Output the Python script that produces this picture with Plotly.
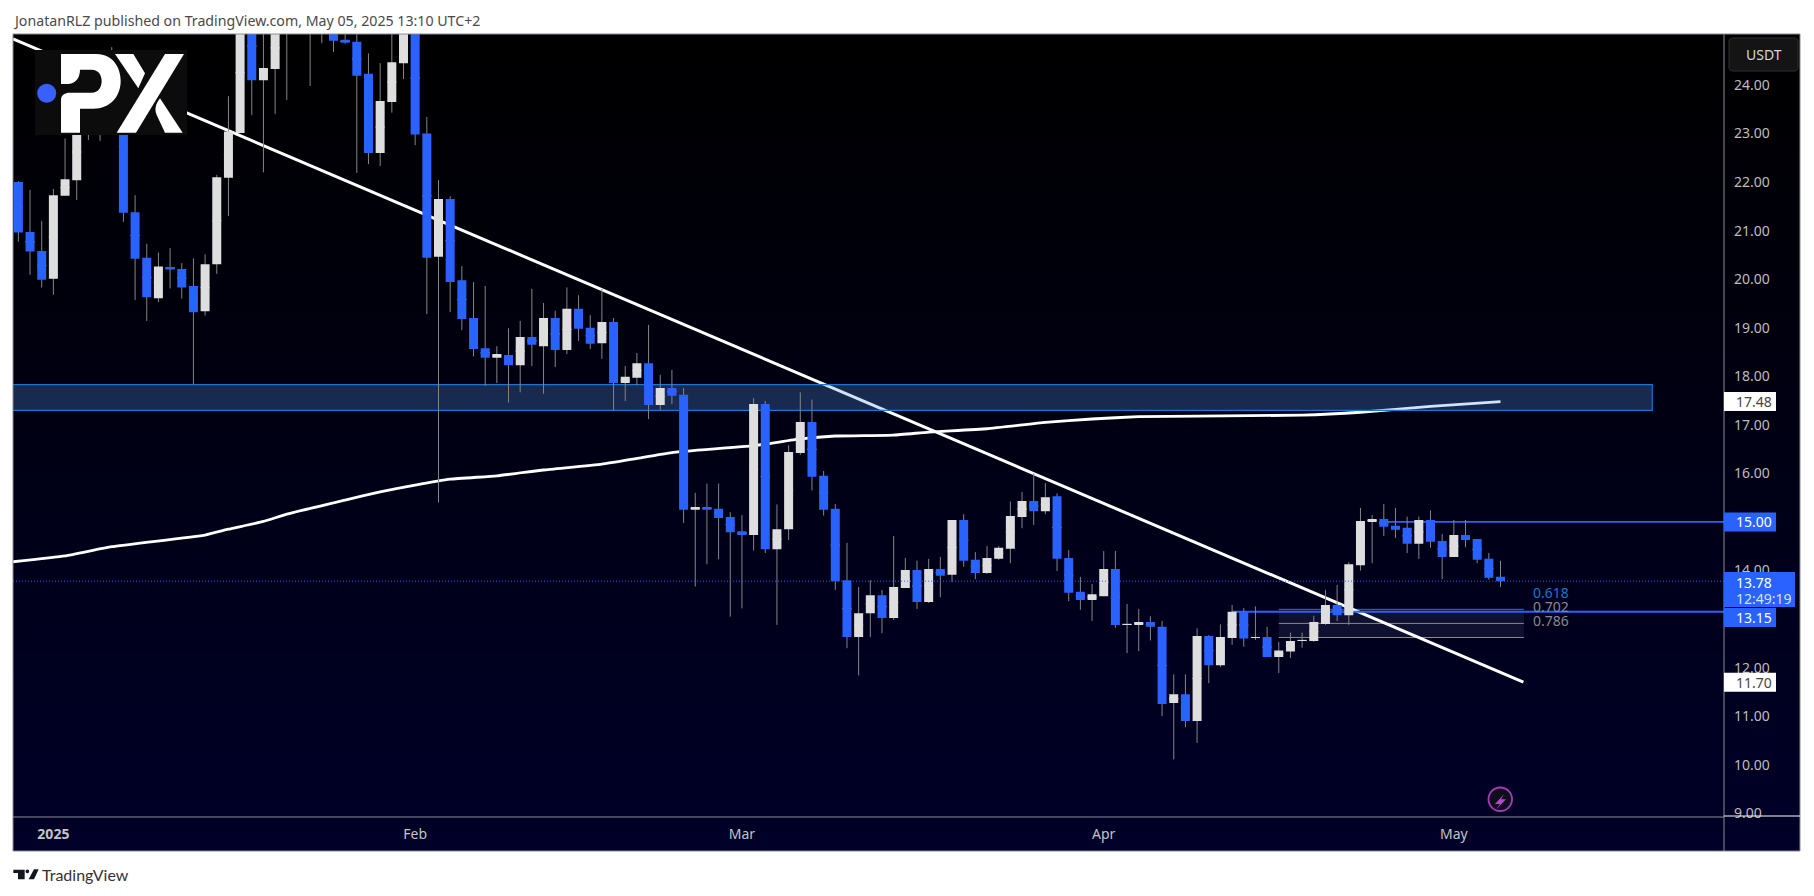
import pandas as pd
import plotly.graph_objects as go

W, H = 1814, 896
LEFT, RIGHT, TOP, BOTTOM = 13, 1724, 34, 817  # plot area in pixels

# daily candles, 29 Dec 2024 to 5 May 2025 (bars above the top of the frame are estimates)
opens = [22.0, 20.97, 20.58, 20.01, 21.72, 22.04, 23.2, 23.5, 23.2, 24.1,
         21.38, 20.44, 19.61, 20.25, 20.21, 19.86, 19.34, 20.31, 22.09, 23.01,
         25.5, 24.1, 24.33, 25.6, 26.0, 26.2, 25.9, 25.6, 24.93, 24.89,
         24.23, 22.6, 23.65, 24.45, 25.3, 23.0, 20.46, 21.65, 19.98, 19.2,
         18.58, 18.38, 18.44, 18.23, 18.81, 18.62, 19.2, 18.54, 19.39, 19.0,
         18.68, 19.12, 17.86, 17.97, 18.27, 17.41, 17.76, 17.62, 15.25, 15.31,
         15.27, 15.1, 14.81, 14.73, 17.43, 14.44, 14.85, 16.42, 17.06, 15.95,
         15.27, 13.8, 12.63, 13.12, 13.49, 13.02, 13.64, 14.01, 13.35, 14.03,
         13.91, 15.04, 14.22, 13.95, 14.24, 14.45, 15.1, 15.43, 15.22, 15.53,
         14.26, 13.56, 13.39, 13.47, 14.03, 12.88, 12.88, 12.94, 12.84, 11.27,
         11.45, 10.9, 12.65, 12.05, 12.61, 13.15, 12.61, 12.63, 12.22, 12.33,
         12.55, 12.55, 12.9, 13.29, 13.08, 14.11, 15.0, 15.06, 14.92, 14.88,
         14.55, 15.04, 14.61, 14.28, 14.73, 14.65, 14.24, 13.87]
highs = [22.02, 21.84, 21.2, 21.86, 22.9, 23.6, 24.0, 24.0, 24.78, 24.4,
         21.73, 20.73, 20.55, 20.64, 20.33, 20.43, 20.51, 22.15, 23.77, 26.0,
         26.0, 25.3, 25.8, 26.4, 26.6, 26.5, 26.2, 26.0, 25.1, 25.2,
         24.65, 24.45, 25.3, 25.8, 25.5, 23.34, 22.04, 21.71, 20.27, 19.94,
         19.86, 18.62, 18.99, 19.14, 19.8, 19.51, 19.35, 19.83, 19.67, 19.26,
         19.8, 19.2, 18.21, 18.48, 19.06, 18.03, 18.13, 17.76, 15.6, 15.79,
         15.79, 15.2, 15.14, 17.55, 17.49, 15.36, 16.58, 17.67, 17.52, 16.05,
         15.37, 14.57, 13.66, 13.8, 13.6, 14.71, 14.26, 14.2, 14.24, 14.28,
         15.04, 15.16, 14.38, 14.5, 14.5, 15.42, 15.62, 16.0, 15.8, 15.59,
         14.42, 13.87, 13.72, 14.4, 14.4, 13.31, 13.21, 13.06, 12.96, 11.86,
         11.86, 12.81, 12.67, 12.89, 13.29, 13.23, 13.26, 12.84, 12.53, 12.72,
         12.72, 13.07, 13.6, 13.7, 14.17, 15.29, 15.14, 15.37, 15.29, 15.11,
         15.11, 15.24, 14.75, 15.04, 15.04, 14.65, 14.36, 14.2]
lows = [20.77, 20.09, 19.83, 19.68, 21.72, 21.63, 22.87, 22.85, 23.0, 21.18,
        19.57, 19.14, 19.53, 19.81, 19.6, 17.84, 19.25, 20.11, 21.3, 23.01,
        23.38, 22.2, 23.4, 23.69, 25.3, 23.98, 24.86, 24.68, 24.85, 22.19,
        22.37, 22.33, 23.43, 24.12, 22.76, 19.28, 15.4, 19.32, 18.95, 18.41,
        17.8, 17.86, 17.46, 17.67, 18.21, 17.64, 18.19, 18.46, 18.73, 18.56,
        18.36, 17.29, 17.49, 17.82, 17.12, 17.31, 17.43, 14.98, 13.67, 14.13,
        14.23, 13.05, 13.22, 14.41, 14.36, 12.88, 14.63, 16.38, 15.65, 15.13,
        13.6, 12.4, 11.84, 12.63, 12.71, 12.98, 13.64, 13.21, 13.33, 13.45,
        13.76, 14.08, 13.82, 13.93, 14.22, 14.15, 14.87, 14.94, 15.16, 13.99,
        13.37, 13.19, 12.96, 13.47, 12.82, 12.3, 12.34, 12.56, 11.0, 10.11,
        10.77, 10.45, 11.68, 12.01, 12.47, 12.43, 12.57, 12.22, 11.89, 12.2,
        12.41, 12.53, 12.88, 12.96, 12.88, 14.0, 14.15, 14.71, 14.67, 14.36,
        14.24, 14.47, 13.82, 14.28, 14.48, 14.15, 13.81, 13.66]
closes = [20.96, 20.57, 19.99, 21.73, 22.06, 23.2, 23.5, 23.2, 24.1, 21.37,
          20.42, 19.63, 20.26, 20.2, 19.83, 19.32, 20.31, 22.1, 23.04, 25.5,
          24.1, 24.35, 25.2, 26.2, 26.3, 25.9, 25.6, 24.91, 24.87, 24.19,
          22.6, 23.67, 24.47, 25.3, 22.98, 20.44, 21.65, 19.94, 19.18, 18.56,
          18.38, 18.46, 18.23, 18.81, 18.65, 19.2, 18.54, 19.39, 18.98, 18.67,
          19.12, 17.86, 17.99, 18.27, 17.41, 17.76, 17.6, 15.25, 15.31, 15.25,
          15.08, 14.79, 14.73, 17.43, 14.44, 14.85, 16.44, 17.06, 15.93, 15.25,
          13.78, 12.63, 13.12, 13.49, 13.02, 13.66, 14.01, 13.35, 14.03, 13.89,
          15.04, 14.2, 13.95, 14.26, 14.47, 15.12, 15.43, 15.22, 15.51, 14.24,
          13.54, 13.39, 13.51, 14.03, 12.88, 12.9, 12.94, 12.84, 11.25, 11.45,
          10.9, 12.65, 12.05, 12.63, 13.15, 12.6, 12.63, 12.22, 12.35, 12.55,
          12.57, 12.94, 13.29, 13.08, 14.13, 15.02, 15.06, 14.9, 14.84, 14.55,
          15.04, 14.59, 14.28, 14.73, 14.63, 14.22, 13.85, 13.78]

# moving average, read at a few bars
ma_bar = [-0.46, 4, 8, 16, 18, 21, 23, 28, 31, 34, 37, 41, 45, 50, 53, 56, 63, 67,
          70, 75, 78, 83, 88, 92, 96, 101, 110, 115, 121, 127]
ma_val = [14.18, 14.30, 14.49, 14.73, 14.85, 15.01, 15.16, 15.45, 15.62, 15.76, 15.88,
          15.95, 16.07, 16.19, 16.31, 16.43, 16.57, 16.71, 16.77, 16.79, 16.85, 16.92,
          17.05, 17.12, 17.17, 17.18, 17.20, 17.26, 17.38, 17.48]

trend_bar = [-0.46, 128.96]
trend_val = [24.95, 11.70]

zone_end_bar = 140
zone_low, zone_high = 17.30, 17.83
fib_bar = [108, 129]
fib_levels = [13.2, 12.91, 12.62]
fib_labels = ["0.618", "0.702", "0.786"]
res_bar, res_val = 117, 15.00
sup_bar, sup_val = 104, 13.15
last_price = 13.78

price_ticks = [9, 10, 11, 12, 14, 16, 17, 18, 19, 20, 21, 22, 23, 24]  # 13 and 15 sit under tags
month_bars = [3, 34, 62, 93, 123]
month_labels = ["<b>2025</b>", "Feb", "Mar", "Apr", "May"]

BLUE = "#2962FF"
FONT = "Noto Sans"

start = pd.Timestamp("2024-12-29")


def day(i):
    return (start + pd.Timedelta(days=i)).strftime("%Y-%m-%d %H:%M")


def fx(x):
    return (x - LEFT) / (RIGHT - LEFT)


def fy(y):
    return (BOTTOM - y) / (BOTTOM - TOP)


def ypx(price):
    return 85 + (24 - price) * 48.55


def path(cmds):
    # cmds is a list of (letter, x, y, ...) in pixels
    out = ""
    for c in cmds:
        out += c[0]
        if len(c) > 1:
            pairs = [f"{fx(c[k]):.5f},{fy(c[k + 1]):.5f}" for k in range(1, len(c), 2)]
            out += " ".join(pairs)
    return out


def zoomed(cmds, ox, oy, s=3.0):
    res = []
    for c in cmds:
        row = [c[0]]
        for k in range(1, len(c), 2):
            row += [ox + c[k] / s, oy + c[k + 1] / s]
        res.append(row)
    return res


dates = [day(i) for i in range(len(opens))]
x_range = [day(-0.46), day(146.15)]
y_range = [24 - (BOTTOM - 85) / 48.55, 24 + (85 - TOP) / 48.55]

fig = go.Figure()

# lines that sit behind the candles
fig.add_trace(go.Scatter(x=[day(b) for b in trend_bar], y=trend_val, mode="lines",
                         line=dict(color="white", width=3)))
fig.add_trace(go.Scatter(x=[day(b) for b in ma_bar], y=ma_val, mode="lines",
                         line=dict(color="white", width=2.8, shape="spline", smoothing=0.4)))
fig.add_trace(go.Scatter(x=[day(-2), day(zone_end_bar), day(zone_end_bar), day(-2), day(-2)],
                         y=[zone_low, zone_low, zone_high, zone_high, zone_low],
                         mode="lines", fill="toself", fillcolor="rgba(90,150,240,0.28)",
                         line=dict(color="#1976D2", width=1.2)))
fig.add_trace(go.Scatter(x=[day(res_bar), day(150)], y=[res_val, res_val], mode="lines",
                         line=dict(color=BLUE, width=1.8)))
fig.add_trace(go.Scatter(x=[day(sup_bar), day(150)], y=[sup_val, sup_val], mode="lines",
                         line=dict(color=BLUE, width=1.8)))

# wicks and bodies are separate so wicks can stay grey
mids = [(o + c) / 2 for o, c in zip(opens, closes)]
fig.add_trace(go.Candlestick(x=dates, open=mids, close=mids, high=highs, low=lows,
                             xaxis="x2", yaxis="y2",
                             increasing=dict(line=dict(color="#858585", width=1), fillcolor="#858585"),
                             decreasing=dict(line=dict(color="#858585", width=1), fillcolor="#858585")))
fig.add_trace(go.Candlestick(x=dates, open=opens, close=closes,
                             high=[max(o, c) for o, c in zip(opens, closes)],
                             low=[min(o, c) for o, c in zip(opens, closes)],
                             xaxis="x2", yaxis="y2",
                             increasing=dict(line=dict(color="#DEDEDE", width=0), fillcolor="#DEDEDE"),
                             decreasing=dict(line=dict(color=BLUE, width=0), fillcolor=BLUE)))

fig.add_trace(go.Scatter(x=[day(-2), day(150)], y=[last_price, last_price], mode="lines",
                         xaxis="x2", yaxis="y2",
                         line=dict(color=BLUE, width=1, dash="1px 2px")))

shapes = []

# background panel, black at the top and navy at the bottom
bands = 41
for k in range(bands):
    y0 = TOP + (851 - TOP) * k / bands
    y1 = min(TOP + (851 - TOP) * (k + 1) / bands + 3, 851)
    shapes.append(dict(type="rect", xref="paper", yref="paper", x0=fx(LEFT), x1=fx(1800),
                       y0=fy(y0), y1=fy(y1), fillcolor=f"rgb(0,0,{k})",
                       line_width=0, layer="below"))

# fib block
shapes.append(dict(type="rect", xref="x", yref="y", x0=day(fib_bar[0]), x1=day(fib_bar[1]),
                   y0=fib_levels[2], y1=fib_levels[0], fillcolor="rgba(180,190,255,0.09)",
                   line_width=0, layer="below"))
for lev, col in zip(fib_levels, ["#1976D2", "#8A8A8A", "#8A8A8A"]):
    shapes.append(dict(type="line", xref="x", yref="y", x0=day(fib_bar[0]), x1=day(fib_bar[1]),
                       y0=lev, y1=lev, line=dict(color=col, width=1), layer="below"))


def line(x0, y0, x1, y1, col="#8A8A96", w=1):
    shapes.append(dict(type="line", xref="paper", yref="paper", x0=fx(x0), x1=fx(x1),
                       y0=fy(y0), y1=fy(y1), line=dict(color=col, width=w)))


def box(x0, y0, x1, y1, col, lw=0, lc=None):
    shapes.append(dict(type="rect", xref="paper", yref="paper", x0=fx(x0), x1=fx(x1),
                       y0=fy(y0), y1=fy(y1), fillcolor=col,
                       line=dict(width=lw, color=lc or col)))


def shape_path(cmds, col):
    shapes.append(dict(type="path", xref="paper", yref="paper", path=path(cmds),
                       fillcolor=col, line_width=0))


# frame
line(LEFT, TOP, 1800, TOP)
line(LEFT, 851, 1800, 851)
line(LEFT, TOP, LEFT, 851)
line(1800, TOP, 1800, 851)
line(RIGHT, TOP, RIGHT, 851)
line(LEFT, BOTTOM, RIGHT, BOTTOM)
line(RIGHT, 816, 1800, 816, "#FFFFFF")

# logo
box(35, 50, 187, 135, "#0C0C0C")
shape_path(zoomed([("M", 93, 12), ("L", 200, 12), ("C", 250, 12, 272, 55, 272, 92),
                   ("C", 272, 140, 240, 176, 190, 176), ("L", 150, 176), ("L", 150, 248), ("L", 93, 248),
                   ("L", 93, 150), ("C", 93, 135, 105, 128, 120, 128), ("L", 185, 128),
                   ("C", 205, 128, 215, 112, 215, 92), ("C", 215, 75, 205, 59, 185, 59), ("L", 150, 59),
                   ("C", 150, 80, 140, 100, 115, 102), ("L", 93, 102), ("Z",)], 30, 50), "#FFFFFF")
shape_path(zoomed([("M", 260, 248), ("L", 405, 12), ("L", 462, 12), ("L", 318, 248), ("Z",)], 30, 50), "#FFFFFF")
shape_path(zoomed([("M", 255, 12), ("L", 310, 12), ("L", 345, 70), ("L", 325, 115), ("Z",)], 30, 50), "#FFFFFF")
shape_path(zoomed([("M", 390, 145), ("L", 458, 248), ("L", 405, 248), ("L", 380, 195),
                   ("C", 372, 178, 378, 160, 390, 145), ("Z",)], 30, 50), "#FFFFFF")
shapes.append(dict(type="circle", xref="paper", yref="paper", x0=fx(37.2), x1=fx(56.2),
                   y0=fy(83.8), y1=fy(102.8), fillcolor="#3860FF", line_width=0))

# lightning badge
shapes.append(dict(type="circle", xref="paper", yref="paper", x0=fx(1488.5), x1=fx(1512),
                   y0=fy(787.5), y1=fy(811), fillcolor="#0E0E1C", line=dict(color="#A53CB5", width=1.8)))
shape_path(zoomed([("M", 103, 56), ("L", 75, 87), ("L", 90, 87), ("L", 78, 104), ("L", 108, 73),
                   ("L", 93, 73), ("Z",)], 1470, 775), "#B548C8")

# TradingView mark
shape_path(zoomed([("M", 16, 29), ("L", 50, 29), ("L", 50, 58), ("L", 30, 58), ("L", 30, 39), ("L", 16, 39), ("Z",)],
                  8, 860), "#131722")
shape_path(zoomed([("M", 78, 28), ("L", 92, 28), ("L", 78, 58), ("L", 62, 58), ("Z",)], 8, 860), "#131722")
shapes.append(dict(type="circle", xref="paper", yref="paper", x0=fx(25.5), x1=fx(29.2),
                   y0=fy(869.5), y1=fy(873.2), fillcolor="#131722", line_width=0))

# USDT button
shapes.append(dict(type="path", xref="paper", yref="paper", fillcolor="#141414",
                   line=dict(color="#303030", width=1),
                   path=path([("M", 1733, 38), ("L", 1794, 38), ("Q", 1798, 38, 1798, 42), ("L", 1798, 67),
                              ("Q", 1798, 71, 1794, 71), ("L", 1733, 71), ("Q", 1729, 71, 1729, 67),
                              ("L", 1729, 42), ("Q", 1729, 38, 1733, 38), ("Z",)])))

# price tags, (price, fill, text colour, right edge, centre pixel)
tags = [(17.48, "#FFFFFF", "#444444", 1776, ypx(17.48)), (11.70, "#FFFFFF", "#444444", 1776, ypx(11.70)),
        (15.00, BLUE, "#FFFFFF", 1776, ypx(15.00)), (13.15, BLUE, "#FFFFFF", 1776, 617.5)]
box(RIGHT, 572, 1795, 607, BLUE)
for price, bg, fg, right, cy in tags:
    box(RIGHT, cy - 9.5, right, cy + 9.5, bg)

annotations = []


def text(x, y, s, col, size=14, anchor="left", fam=FONT):
    annotations.append(dict(xref="paper", yref="paper", x=fx(x), y=fy(y), text=s, showarrow=False,
                            xanchor=anchor, yanchor="middle", font=dict(family=fam, size=size, color=col),
                            borderpad=0))


for price, bg, fg, right, cy in tags:
    text(1735, cy, f"{price:.2f}", fg)
text(1735, 582, f"{last_price:.2f}", "#FFFFFF")
text(1735, 598, "12:49:19", "#D8E2FF")
text(1763.5, 54.5, "USDT", "#D6D6D6", anchor="center")
text(11.5, 20, "JonatanRLZ published on TradingView.com, May 05, 2025 13:10 UTC+2", "#4A4A4A", 14.2)
text(41, 875, "TradingView", "#333333", 16, fam="Lato")
for s, y, col in zip(fib_labels, [592.7, 606.7, 620.7], ["#1976D2", "#8A8A8A", "#8A8A8A"]):
    text(1532, y, s, col, 14)

fig.update_layout(
    width=W, height=H, autosize=False,
    margin=dict(l=LEFT, r=W - RIGHT, t=TOP, b=H - BOTTOM, pad=0),
    paper_bgcolor="white", plot_bgcolor="rgba(0,0,0,0)",
    showlegend=False, boxgap=0.23, boxgroupgap=0, hovermode=False,
    font=dict(family=FONT, size=14, color="#BDBDBD"),
    shapes=shapes, annotations=annotations,
    xaxis=dict(type="date", range=x_range, showgrid=False, zeroline=False, showline=False,
               ticks="", tickmode="array", tickvals=[day(b) for b in month_bars], ticktext=month_labels,
               tickangle=0, ticklabelstandoff=7, tickfont=dict(size=14, color="#C4C4C4"),
               rangeslider=dict(visible=False)),
    yaxis=dict(range=y_range, side="right", showgrid=False, zeroline=False, showline=False,
               ticks="", tickmode="array", tickvals=price_ticks, ticktext=[f"{p:.2f}" for p in price_ticks],
               ticklabelstandoff=9, tickfont=dict(size=14, color="#BDBDBD")),
    xaxis2=dict(type="date", range=x_range, overlaying="x", anchor="y2", visible=False,
                rangeslider=dict(visible=False)),
    yaxis2=dict(range=y_range, overlaying="y", anchor="x2", side="right", visible=False),
)

fig.write_html("out.html", config=dict(displayModeBar=False),
               post_script="document.body.style.margin='0';document.body.style.overflow='hidden';")
